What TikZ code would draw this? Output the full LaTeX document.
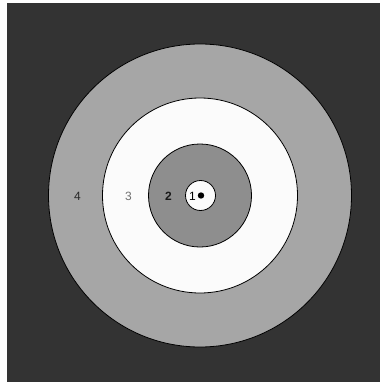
\documentclass[tikz,border=0pt]{standalone}
\usepackage{fontspec}
\setmainfont{Liberation Sans}
\definecolor{bgdark}{HTML}{333333}
\definecolor{ringfour}{HTML}{A6A6A6}
\definecolor{ringthree}{HTML}{FBFBFB}
\definecolor{ringtwo}{HTML}{8E8E8E}
\definecolor{labthree}{HTML}{707070}
\begin{document}
\begin{tikzpicture}[x=1pt,y=-1pt,
  ring/.style={draw=black, line width=0.8pt},
  lab/.style={font=\fontsize{12}{12}\selectfont, inner sep=0pt, anchor=center}]
\useasboundingbox (0,0) rectangle (380,382);
\fill[white] (0,0) rectangle (380,382);
\fill[bgdark] (7,3) rectangle (380,382);
\coordinate (c) at (200,195.5);
\path[ring, fill=ringfour] (c) circle[radius=151.5];
\path[ring, fill=ringthree] (c) circle[radius=97.5];
\path[ring, fill=ringtwo] (c) circle[radius=51.5];
\path[ring, fill=ringthree] (200.5,195.5) circle[radius=15];
\fill[black] (201,195.5) circle[radius=3.2];
\node[lab, text=black!85] (l4) at (77.5,196) {4};
\node[lab, text=labthree] (l3) at (128.5,196) {3};
\node[lab, text=black!90, font=\fontsize{12}{12}\selectfont\bfseries] (l2) at (168.5,196) {2};
\node[lab, text=black] (l1) at (192.5,196) {1};
\end{tikzpicture}
\end{document}
